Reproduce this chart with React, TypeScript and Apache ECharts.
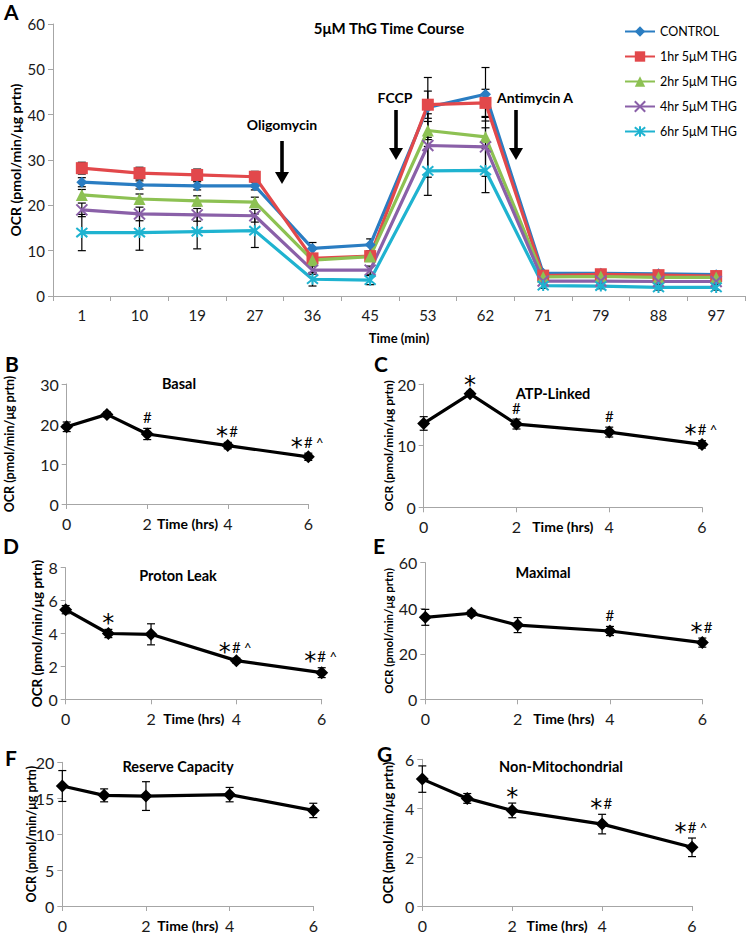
import React, { useEffect, useRef } from "react";
import * as echarts from "echarts";

// ---------- Panel A data ----------
const timeCategories = ["1", "10", "19", "27", "36", "45", "53", "62", "71", "79", "88", "97"];
const seriesNames = ["CONTROL", "1hr 5μM THG", "2hr 5μM THG", "4hr 5μM THG", "6hr 5μM THG"];
const controlValues = [25.1, 24.5, 24.3, 24.3, 10.5, 11.3, 41.6, 44.5, 5.0, 5.0, 4.9, 4.7];
const hr1Values = [28.2, 27.1, 26.7, 26.3, 8.3, 8.8, 42.2, 42.6, 4.5, 4.8, 4.6, 4.4];
const hr2Values = [22.3, 21.4, 21.0, 20.7, 7.9, 8.7, 36.5, 35.1, 4.2, 4.3, 4.1, 4.1];
const hr4Values = [19.0, 18.1, 17.9, 17.7, 5.7, 5.7, 33.2, 32.9, 3.3, 3.3, 3.2, 3.2];
const hr6Values = [14.0, 14.0, 14.2, 14.4, 3.7, 3.5, 27.6, 27.7, 2.3, 2.2, 1.9, 1.9];
const controlErr = [1.0, 0.9, 0.9, 0.9, 1.3, 1.3, 6.6, 5.9, 0.6, 0.6, 0.5, 0.5];
const hr1Err = [1.3, 1.3, 1.3, 1.2, 0.8, 0.8, 3.0, 3.0, 0.6, 0.5, 0.5, 0.5];
const hr2Err = [1.2, 1.1, 1.1, 1.1, 0.8, 0.8, 2.0, 2.0, 0.5, 0.5, 0.5, 0.5];
const hr4Err = [1.5, 1.5, 1.4, 1.4, 0.9, 0.9, 7.0, 6.5, 0.5, 0.5, 0.5, 0.5];
const hr6Err = [4.0, 3.9, 3.8, 3.7, 1.5, 1.0, 5.4, 4.9, 0.6, 0.6, 0.6, 0.6];
const yTicksA = [0, 60, 10];

// ---------- Panels B-G data ----------
const hours = [0, 1, 2, 4, 6];
const basalValues = [19.3, 22.4, 17.5, 14.6, 11.8];
const basalErr = [1.2, 0.6, 1.4, 0.8, 0.9];
const basalMarks = ["", "", "#", "*#", "*#^"];
const atpValues = [13.6, 18.4, 13.5, 12.2, 10.2];
const atpErr = [1.1, 0.4, 0.8, 0.8, 0.6];
const atpMarks = ["", "*", "#", "#", "*#^"];
const leakValues = [5.45, 4.0, 3.95, 2.35, 1.62];
const leakErr = [0.25, 0.25, 0.64, 0.15, 0.3];
const leakMarks = ["", "*", "", "*#^", "*#^"];
const maximalValues = [36.0, 37.8, 32.6, 30.0, 24.9];
const maximalErr = [3.5, 1.3, 3.3, 2.0, 2.0];
const maximalMarks = ["", "", "", "#", "*#"];
const reserveValues = [16.7, 15.4, 15.3, 15.5, 13.3];
const reserveErr = [2.15, 0.9, 2.0, 1.0, 1.0];
const reserveMarks = ["", "", "", "", ""];
const nonMitoValues = [5.19, 4.4, 3.91, 3.35, 2.4];
const nonMitoErr = [0.54, 0.2, 0.3, 0.4, 0.38];
const nonMitoMarks = ["", "", "*", "*#", "*#^"];

const FONT = "Lato, 'Open Sans', sans-serif";
const AXIS_GRAY = "#a6a6a6";
const COLORS = ["#2a7dc2", "#e2484b", "#8dc153", "#8a60a8", "#1fb3d0"];
const X_SYMBOL = "path://M0,0L10,10M10,0L0,10";
const AST_SYMBOL = "path://M0,0L10,10M10,0L0,10M5,-1L5,11";

const panelsData = [
  { title: "Basal", letter: "B", values: basalValues, err: basalErr, marks: basalMarks, max: 30, interval: 10 },
  { title: "ATP-Linked", letter: "C", values: atpValues, err: atpErr, marks: atpMarks, max: 20, interval: 10 },
  { title: "Proton Leak", letter: "D", values: leakValues, err: leakErr, marks: leakMarks, max: 8, interval: 2 },
  { title: "Maximal", letter: "E", values: maximalValues, err: maximalErr, marks: maximalMarks, max: 60, interval: 20 },
  { title: "Reserve Capacity", letter: "F", values: reserveValues, err: reserveErr, marks: reserveMarks, max: 20, interval: 5 },
  { title: "Non-Mitochondrial", letter: "G", values: nonMitoValues, err: nonMitoErr, marks: nonMitoMarks, max: 6, interval: 2 },
];

// layout (pixel positions of each small panel)
const panelLayout = [
  { left: 66.7, top: 384, width: 241.6, height: 120, yNameGap: 50.7, yNameSize: 12.5, titleX: 179, titleY: 383, letterX: 12, letterY: 363 },
  { left: 423.7, top: 384, width: 278.3, height: 123.3, yNameGap: 29, yNameSize: 12, titleX: 553, titleY: 393, letterX: 381, letterY: 363 },
  { left: 65.7, top: 567.7, width: 256, height: 131.6, yNameGap: 21.5, yNameSize: 13.5, titleX: 178, titleY: 575, letterX: 10, letterY: 545 },
  { left: 425.3, top: 562.7, width: 277, height: 136.6, yNameGap: 31, yNameSize: 11.5, titleX: 543, titleY: 572, letterX: 380, letterY: 545 },
  { left: 62.3, top: 762.3, width: 251, height: 145.4, yNameGap: 24.7, yNameSize: 12.5, titleX: 178, titleY: 766, letterX: 12, letterY: 757 },
  { left: 422.3, top: 759.3, width: 269.7, height: 148.4, yNameGap: 27.5, yNameSize: 13, titleX: 561, titleY: 766, letterX: 384, letterY: 753 },
];

function makeErrorRender(capHalf: number, marks: string[] | null) {
  return (params: any, api: any) => {
    const x = api.value(0);
    const v = api.value(1);
    const e = api.value(2);
    const hi = api.coord([x, v + e]);
    const lo = api.coord([x, v - e]);
    const style = { stroke: "#000", lineWidth: 1.2 };
    const children: any[] = [
      { type: "line", shape: { x1: hi[0], y1: hi[1], x2: lo[0], y2: lo[1] }, style },
      { type: "line", shape: { x1: hi[0] - capHalf, y1: hi[1], x2: hi[0] + capHalf, y2: hi[1] }, style },
      { type: "line", shape: { x1: lo[0] - capHalf, y1: lo[1], x2: lo[0] + capHalf, y2: lo[1] }, style },
    ];
    const m = marks ? marks[params.dataIndex] : "";
    if (m) {
      const chars = m.split("");
      const n = chars.length;
      const cy = hi[1] - 11.5;
      chars.forEach((ch, i) => {
        const cx = hi[0] + (i - (n - 1) / 2) * 11.5;
        const isStar = ch === "*";
        children.push({
          type: "text",
          style: {
            text: ch,
            x: cx,
            y: isStar ? cy + 5 : ch === "^" ? cy + 1 : cy,
            align: "center",
            verticalAlign: "middle",
            fill: "#000",
            fontSize: isStar ? 24 : ch === "#" ? 15 : 13,
            fontFamily: isStar ? "DejaVu Sans" : FONT,
          },
        });
      });
    }
    return { type: "group", children };
  };
}

function buildOption() {
  const grids: any[] = [{ left: 52, top: 24, width: 693, height: 272 }];
  const xAxes: any[] = [
    {
      type: "category",
      gridIndex: 0,
      data: timeCategories,
      boundaryGap: true,
      axisLine: { lineStyle: { color: AXIS_GRAY, width: 1 } },
      axisTick: { show: true, length: 5, lineStyle: { color: AXIS_GRAY } },
      axisLabel: { interval: 0, color: "#1a1a1a", fontSize: 15, fontFamily: FONT, margin: 11 },
      name: "Time (min)",
      nameLocation: "middle",
      nameGap: 35,
      nameMoveOverlap: false,
      nameTextStyle: { fontWeight: "bold", fontSize: 13, fontFamily: FONT, color: "#000" },
    },
  ];
  const yAxes: any[] = [
    {
      type: "value",
      gridIndex: 0,
      min: yTicksA[0],
      max: yTicksA[1],
      interval: yTicksA[2],
      splitLine: { show: false },
      axisLine: { show: true, lineStyle: { color: AXIS_GRAY } },
      axisTick: { show: true, length: 5, lineStyle: { color: AXIS_GRAY } },
      axisLabel: { color: "#1a1a1a", fontSize: 15, fontFamily: FONT, margin: 8 },
      name: "OCR (pmol/min/μg prtn)",
      nameLocation: "middle",
      nameRotate: 90,
      nameGap: 31,
      nameMoveOverlap: false,
      nameTextStyle: { fontWeight: "bold", fontSize: 14, fontFamily: FONT, color: "#000" },
    },
  ];

  const valuesA = [controlValues, hr1Values, hr2Values, hr4Values, hr6Values];
  const errA = [controlErr, hr1Err, hr2Err, hr4Err, hr6Err];
  const symbols = ["diamond", "rect", "triangle", X_SYMBOL, AST_SYMBOL];
  const symbolSizes = [11, 12, 12, 11, 11];

  const series: any[] = [];
  valuesA.forEach((vals, i) => {
    series.push({
      type: "custom",
      xAxisIndex: 0,
      yAxisIndex: 0,
      z: 1,
      silent: true,
      renderItem: makeErrorRender(4, null),
      data: vals.map((v, j) => [j, v, errA[i][j]]),
    });
  });
  valuesA.forEach((vals, i) => {
    const isStroke = i >= 3;
    series.push({
      type: "line",
      name: seriesNames[i],
      xAxisIndex: 0,
      yAxisIndex: 0,
      z: 3,
      data: vals,
      symbol: symbols[i],
      symbolSize: symbolSizes[i],
      showAllSymbol: true,
      lineStyle: { color: COLORS[i], width: 3.2 },
      itemStyle: isStroke
        ? { color: COLORS[i], borderColor: COLORS[i], borderWidth: 2 }
        : { color: COLORS[i], borderWidth: 0 },
      color: COLORS[i],
    });
  });

  panelsData.forEach((p, k) => {
    const L = panelLayout[k];
    const gi = k + 1;
    grids.push({ left: L.left, top: L.top, width: L.width, height: L.height });
    xAxes.push({
      type: "value",
      gridIndex: gi,
      min: 0,
      max: 6,
      interval: 2,
      splitLine: { show: false },
      axisLine: { show: true, onZero: false, lineStyle: { color: AXIS_GRAY } },
      axisTick: { show: true, length: 5, lineStyle: { color: AXIS_GRAY } },
      axisLabel: { color: "#1a1a1a", fontSize: 16, fontFamily: FONT, margin: 11 },
      name: "Time (hrs)",
      nameLocation: "middle",
      nameGap: 12,
      nameMoveOverlap: false,
      nameTextStyle: { fontWeight: "bold", fontSize: 14, fontFamily: FONT, color: "#000" },
    });
    yAxes.push({
      type: "value",
      gridIndex: gi,
      min: 0,
      max: p.max,
      interval: p.interval,
      splitLine: { show: false },
      axisLine: { show: true, lineStyle: { color: AXIS_GRAY } },
      axisTick: { show: true, length: 5, lineStyle: { color: AXIS_GRAY } },
      axisLabel: { color: "#1a1a1a", fontSize: 16, fontFamily: FONT, margin: 8 },
      name: "OCR (pmol/min/μg prtn)",
      nameLocation: "middle",
      nameRotate: 90,
      nameGap: L.yNameGap,
      nameMoveOverlap: false,
      nameTextStyle: { fontWeight: "bold", fontSize: L.yNameSize, fontFamily: FONT, color: "#000" },
    });
    series.push({
      type: "custom",
      xAxisIndex: gi,
      yAxisIndex: gi,
      z: 1,
      silent: true,
      renderItem: makeErrorRender(4, p.marks),
      data: hours.map((h, j) => [h, p.values[j], p.err[j]]),
    });
    series.push({
      type: "line",
      xAxisIndex: gi,
      yAxisIndex: gi,
      z: 3,
      data: hours.map((h, j) => [h, p.values[j]]),
      symbol: "diamond",
      symbolSize: 13,
      lineStyle: { color: "#000", width: 3.2 },
      itemStyle: { color: "#000" },
    });
  });

  const arrow = (x: number, y1: number, y2: number) => ({
    type: "group",
    children: [
      { type: "rect", shape: { x: x - 1.8, y: y1, width: 3.6, height: y2 - y1 - 11 }, style: { fill: "#000" } },
      { type: "polygon", shape: { points: [[x - 7, y2 - 12], [x + 7, y2 - 12], [x, y2]] }, style: { fill: "#000" } },
    ],
  });
  const txt = (text: string, x: number, y: number, size: number, bold = true, align = "center") => ({
    type: "text",
    style: {
      text,
      x,
      y,
      fill: "#000",
      align,
      verticalAlign: "middle",
      fontSize: size,
      fontWeight: bold ? "bold" : "normal",
      fontFamily: FONT,
    },
  });

  const graphic: any[] = [
    txt("A", 4, 11, 21, true, "left"),
    txt("5μM ThG Time Course", 389, 28, 15),
    txt("Oligomycin", 282, 124, 14),
    txt("FCCP", 395, 97, 14),
    txt("Antimycin A", 535, 97, 14),
    arrow(282, 141, 184),
    arrow(396, 110, 160),
    arrow(516, 110, 160),
  ];
  panelsData.forEach((p, k) => {
    const L = panelLayout[k];
    graphic.push(txt(p.letter, L.letterX - 7, L.letterY, 21, true, "left"));
    graphic.push(txt(p.title, L.titleX, L.titleY, 14.5));
  });

  return {
    animation: false,
    backgroundColor: "#fff",
    textStyle: { fontFamily: FONT },
    grid: grids,
    xAxis: xAxes,
    yAxis: yAxes,
    legend: {
      data: seriesNames,
      orient: "vertical",
      left: 624,
      top: 25,
      padding: 0,
      itemWidth: 30,
      itemHeight: 13,
      itemGap: 12,
      textStyle: { fontSize: 12.5, fontFamily: FONT, color: "#000" },
    },
    series,
    graphic,
  };
}

export default function App() {
  const ref = useRef<HTMLDivElement>(null);
  useEffect(() => {
    document.body.style.margin = "0";
    if (!ref.current) return;
    const chart = echarts.init(ref.current, undefined, { renderer: "svg" });
    chart.setOption(buildOption() as any);
    return () => chart.dispose();
  }, []);
  return <div ref={ref} style={{ width: 746, height: 933 }} />;
}
